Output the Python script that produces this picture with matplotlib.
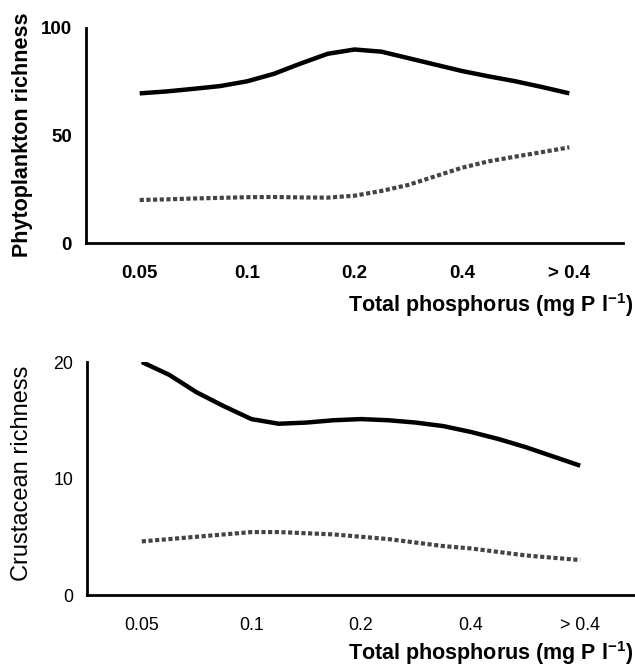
import numpy as np
import matplotlib
matplotlib.use('agg')
from matplotlib import pyplot as plt

plt.rcParams['font.family'] = ['Liberation Sans', 'DejaVu Sans']
plt.rcParams['mathtext.fontset'] = 'custom'
plt.rcParams['mathtext.rm'] = 'Liberation Sans'
plt.rcParams['mathtext.bf'] = 'Liberation Sans:bold'

tp_labels = ['0.05', '0.1', '0.2', '0.4', '> 0.4']
# readings taken every quarter category along the smoothed curves
tp_pos = [1, 1.25, 1.5, 1.75, 2, 2.25, 2.5, 2.75, 3, 3.25, 3.5, 3.75, 4, 4.25, 4.5, 4.75, 5]

phyto_solid = [69.6, 70.5, 71.7, 73.0, 75.2, 78.7, 83.5, 88.0, 90.0, 89.0, 86.0,
               83.0, 80.0, 77.5, 75.2, 72.5, 69.6]
phyto_dotted = [20.0, 20.3, 20.7, 21.0, 21.3, 21.4, 21.2, 21.1, 22.0, 24.2, 27.0,
                31.0, 35.0, 38.0, 40.2, 42.3, 44.5]

crust_solid = [20.0, 18.9, 17.4, 16.2, 15.1, 14.7, 14.8, 15.0, 15.1, 15.0, 14.8,
               14.5, 14.0, 13.4, 12.7, 11.9, 11.1]
crust_dotted = [4.6, 4.8, 5.0, 5.2, 5.4, 5.4, 5.3, 5.2, 5.0, 4.8, 4.5,
                4.2, 4.0, 3.7, 3.4, 3.2, 3.0]

W, H = 635, 668
fig = plt.figure(figsize=(W / 100, H / 100), dpi=100)
ax1 = fig.add_axes([86 / W, 1 - 243 / H, 537 / W, 215 / H])
ax2 = fig.add_axes([87 / W, 1 - 595 / H, 548 / W, 233 / H])


def style_axis(ax, ymax, yticks, weight, size):
    ax.set_xlim(0.5, 5.5)
    ax.set_ylim(0, ymax)
    for side in ['top', 'right']:
        ax.spines[side].set_visible(False)
    for side in ['left', 'bottom']:
        ax.spines[side].set_linewidth(2)
    ax.set_xticks(range(1, 6))
    ax.set_xticklabels(tp_labels, fontsize=size, fontweight=weight)
    ax.set_yticks(yticks)
    ax.set_yticklabels([str(t) for t in yticks], fontsize=size, fontweight=weight)
    ax.tick_params(axis='x', length=0, pad=16)
    ax.tick_params(axis='y', length=0, pad=10)


ax1.plot(tp_pos, phyto_solid, color='black', lw=3.2, solid_capstyle='butt')
ax1.plot(tp_pos, phyto_dotted, color='#444444', lw=3, linestyle=(0, (1.0, 0.6)),
         dash_capstyle='butt')
style_axis(ax1, 100, [0, 50, 100], 'bold', 13.5)

ax2.plot(tp_pos, crust_solid, color='black', lw=3.2, solid_capstyle='butt')
ax2.plot(tp_pos, crust_dotted, color='#444444', lw=3, linestyle=(0, (1.0, 0.6)),
         dash_capstyle='butt')
style_axis(ax2, 20, [0, 10, 20], 'normal', 12.8)

# y labels
fig.text(23 / W, 1 - 135 / H, 'Phytoplankton richness', rotation=90,
         ha='center', va='center', fontsize=15.5, fontweight='bold')
fig.text(22 / W, 1 - 473 / H, 'Crustacean richness', rotation=90,
         ha='center', va='center', fontsize=17)

# x labels
xlabel = r'Total phosphorus (mg P l$^{\mathbf{-1}}$)'
fig.text(633 / W, 1 - 305 / H, xlabel, ha='right', va='center',
         fontsize=15.5, fontweight='bold')
fig.text(633 / W, 1 - 653 / H, xlabel, ha='right', va='center',
         fontsize=15.5, fontweight='bold')

fig.savefig('out.png', dpi=100)
